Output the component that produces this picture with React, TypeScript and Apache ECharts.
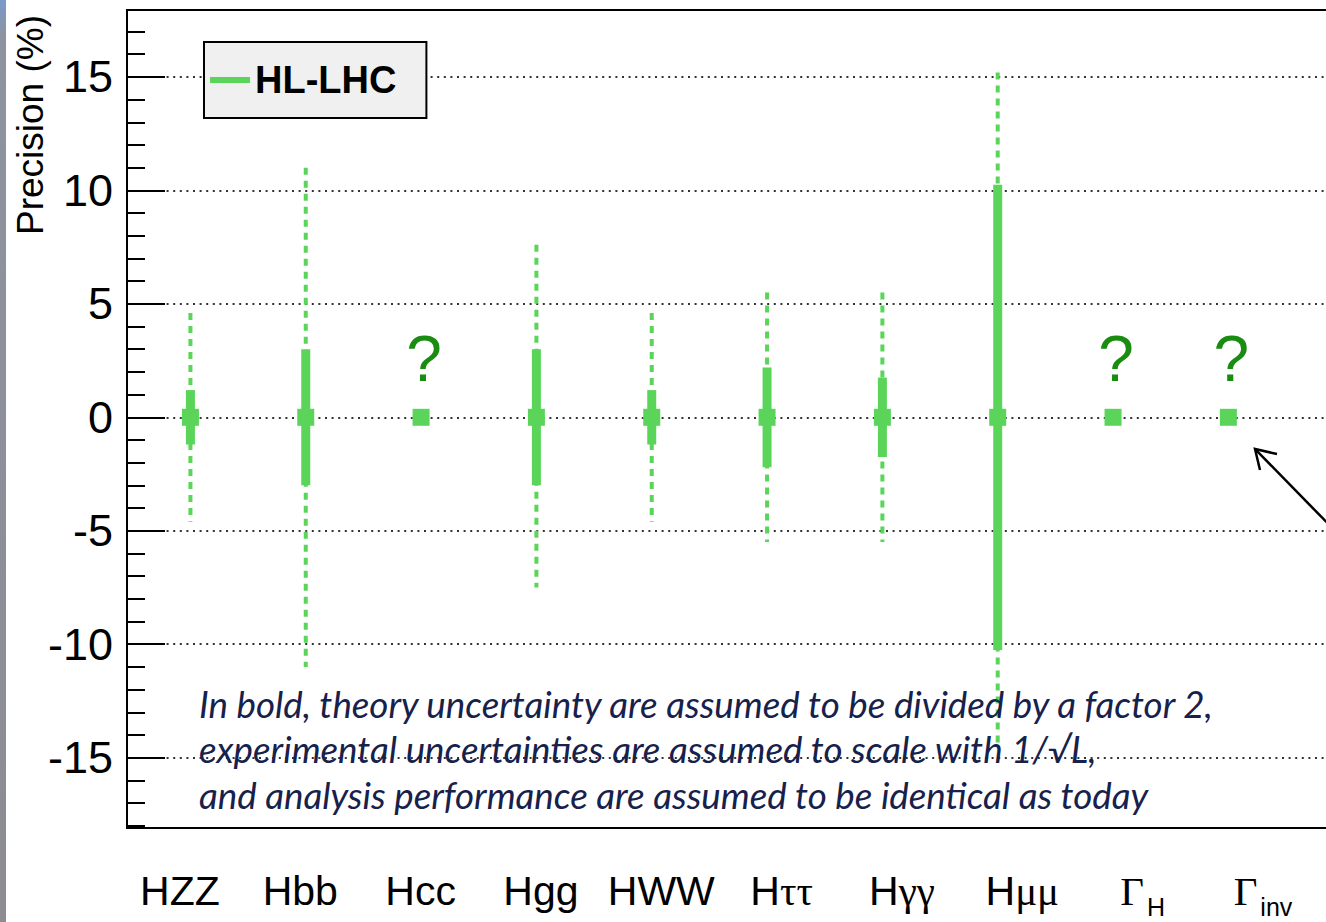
import React, { useEffect, useRef } from "react";
import * as echarts from "echarts";

// Coupling channels shown along the horizontal axis
const CATEGORIES = ["HZZ", "Hbb", "Hcc", "Hgg", "HWW", "Hττ", "Hγγ", "Hμμ", "ΓH", "Γinv"];
// Rich-text forms of the channel names (Greek letters in a serif face, subscripts lowered)
const CATEGORY_LABELS = [
  "{s|HZZ}",
  "{s|Hbb}",
  "{s|Hcc}",
  "{s|Hgg}",
  "{s|HWW}",
  "{s|H}{g|ττ}",
  "{s|H}{g|γγ}",
  "{s|H}{g|μμ}",
  "{g|Γ}{sub|H}",
  "{g|Γ}{sub|inv}",
];

// Central value (%) of every channel
const CENTRAL = [0, 0, 0, 0, 0, 0, 0, 0, 0, 0];
// Full uncertainty band (dotted), upper and lower edges in %
const TOTAL_UP = [4.6, 11.0, null, 7.6, 4.6, 5.5, 5.5, 15.2, null, null];
const TOTAL_DOWN = [-4.6, -11.0, null, -7.5, -4.6, -5.5, -5.5, -14.5, null, null];
// Band with theory uncertainty halved (bold), upper and lower edges in %
const BOLD_UP = [1.2, 3.0, null, 3.0, 1.2, 2.2, 1.75, 10.25, null, null];
const BOLD_DOWN = [-1.2, -3.0, null, -3.0, -1.2, -2.2, -1.75, -10.25, null, null];

// Vertical axis
const Y_MIN = -18.1;
const Y_MAX = 17.95;
const MAJOR_TICKS = [-15, -10, -5, 0, 5, 10, 15];
const MINOR_TICKS = Array.from({ length: 36 }, (_, i) => i - 18);

const SERIES_NAME = "HL-LHC";
const NOTE_LINES = [
  "In bold, theory uncertainty are assumed to be divided by a factor 2,",
  "experimental uncertainties are assumed to scale with 1/√L,",
  "and analysis performance are assumed to be identical as today",
];

const GREEN = "#5ad55a";
const QUESTION_GREEN = "#1b8c12";
const NOTE_COLOR = "#16214c";
const SANS = "'Liberation Sans', Arial, sans-serif";
const SERIF = "'Liberation Serif', 'Times New Roman', serif";
const NOTE_FONT = "Lato";
const NOTE_SIZE = 36;
const NOTE_WIDTH = 1018;

function noteScale(): number {
  const canvas = document.createElement("canvas");
  const ctx = canvas.getContext("2d");
  if (!ctx) return 0.9;
  ctx.font = `italic ${NOTE_SIZE}px ${NOTE_FONT}`;
  const w = ctx.measureText(NOTE_LINES[0]).width;
  return w > 0 ? NOTE_WIDTH / w : 0.9;
}

export default function App() {
  const ref = useRef<HTMLDivElement>(null);

  useEffect(() => {
    if (!ref.current) return;
    const chart = echarts.init(ref.current, undefined, { renderer: "svg" });

    const data = CATEGORIES.map((_, i) => [
      i,
      CENTRAL[i],
      TOTAL_UP[i] ?? "-",
      TOTAL_DOWN[i] ?? "-",
      BOLD_UP[i] ?? "-",
      BOLD_DOWN[i] ?? "-",
    ]);

    const sx = noteScale();

    const option: any = {
      animation: false,
      backgroundColor: "#ffffff",
      grid: {
        left: 127,
        top: 10,
        width: 1219,
        height: 818,
        show: true,
        borderColor: "#000",
        borderWidth: 2,
        backgroundColor: "transparent",
        containLabel: false,
        outerBoundsMode: "none",
      },
      legend: {
        show: true,
        data: [{ name: SERIES_NAME, icon: "rect" }],
        left: 204,
        top: 42,
        orient: "horizontal",
        itemWidth: 40,
        itemHeight: 6,
        padding: [19, 30, 19, 6],
        backgroundColor: "#f0f0f0",
        borderColor: "#000",
        borderWidth: 2,
        borderRadius: 0,
        selectedMode: false,
        textStyle: {
          fontSize: 38,
          fontWeight: "bold",
          fontFamily: SANS,
          color: "#000",
        },
      },
      xAxis: [
        {
          type: "value",
          min: -0.55,
          max: 10.02,
          position: "bottom",
          axisLine: { show: false, onZero: false },
          axisTick: { show: false },
          axisLabel: { show: false },
          splitLine: { show: false },
        },
        {
          type: "value",
          min: -0.44,
          max: 9.69,
          position: "bottom",
          axisLine: { show: false, onZero: false },
          axisTick: { show: false },
          splitLine: { show: false },
          axisLabel: {
            show: true,
            customValues: CATEGORIES.map((_, i) => i),
            formatter: (v: number) => CATEGORY_LABELS[Math.round(v)] ?? "",
            margin: 42,
            color: "#000",
            rich: {
              s: { fontFamily: SANS, fontSize: 41, color: "#000", lineHeight: 46, verticalAlign: "top" },
              g: { fontFamily: SERIF, fontSize: 41, color: "#000", lineHeight: 46, verticalAlign: "top" },
              sub: {
                fontFamily: SANS,
                fontSize: 25,
                color: "#000",
                lineHeight: 24,
                verticalAlign: "top",
                padding: [24, 0, 0, 3],
              },
            },
          },
        },
      ],
      yAxis: [
        {
          type: "value",
          min: Y_MIN,
          max: Y_MAX,
          position: "left",
          axisLine: { show: false, onZero: false },
          axisTick: {
            show: true,
            inside: true,
            length: 18,
            customValues: MINOR_TICKS,
            lineStyle: { color: "#000", width: 2 },
          },
          axisLabel: { show: false },
          splitLine: { show: false },
        },
        {
          type: "value",
          min: Y_MIN,
          max: Y_MAX,
          position: "left",
          axisLine: { show: false, onZero: false },
          axisTick: {
            show: true,
            inside: true,
            length: 38,
            customValues: MAJOR_TICKS,
            lineStyle: { color: "#000", width: 2 },
          },
          axisLabel: {
            show: true,
            customValues: MAJOR_TICKS,
            fontSize: 45,
            fontFamily: SANS,
            color: "#000",
            margin: 14,
          },
          splitLine: {
            show: true,
            lineStyle: { color: "#333", width: 2, type: [2, 4.6] },
          },
        },
      ],
      series: [
        {
          name: SERIES_NAME,
          type: "custom",
          xAxisIndex: 0,
          yAxisIndex: 1,
          itemStyle: { color: GREEN },
          encode: { x: 0, y: [1, 2, 3, 4, 5] },
          data,
          renderItem: (params: any, api: any) => {
            const i = api.value(0);
            const c = api.coord([i, api.value(1)]);
            const children: any[] = [];
            const tUp = api.value(2);
            const tDown = api.value(3);
            const bUp = api.value(4);
            const bDown = api.value(5);
            const known = !isNaN(tUp) && tUp !== "-" && tUp !== null;
            if (known) {
              const pTop = api.coord([i, tUp]);
              const pBot = api.coord([i, tDown]);
              children.push({
                type: "line",
                shape: { x1: c[0], y1: pTop[1], x2: c[0], y2: pBot[1] },
                style: { stroke: GREEN, lineWidth: 4, lineDash: [7, 6] },
              });
              const bTop = api.coord([i, bUp]);
              const bBot = api.coord([i, bDown]);
              children.push({
                type: "rect",
                shape: { x: c[0] - 4.5, y: bTop[1], width: 9, height: bBot[1] - bTop[1] },
                style: { fill: GREEN },
              });
            }
            children.push({
              type: "rect",
              shape: { x: c[0] - 8.5, y: c[1] - 8.5, width: 17, height: 17 },
              style: { fill: GREEN },
            });
            if (!known) {
              children.push({
                type: "text",
                x: c[0] + 3,
                y: c[1] - 58,
                style: {
                  text: "?",
                  fill: QUESTION_GREEN,
                  fontSize: 64,
                  fontFamily: SANS,
                  align: "center",
                  verticalAlign: "middle",
                },
              });
            }
            return { type: "group", children };
          },
        },
      ],
      graphic: [
        {
          type: "rect",
          left: 0,
          top: 0,
          shape: { x: 0, y: 0, width: 6, height: 922 },
          style: {
            fill: new echarts.graphic.LinearGradient(0, 0, 0, 1, [
              { offset: 0, color: "#7b9acb" },
              { offset: 0.04, color: "#8d93a0" },
              { offset: 1, color: "#8c8c92" },
            ]),
          },
          silent: true,
        },
        {
          type: "text",
          x: 30,
          y: 15,
          rotation: Math.PI / 2,
          style: {
            text: "Precision (%)",
            fontSize: 37,
            fontFamily: SANS,
            fill: "#000",
            align: "right",
            verticalAlign: "middle",
          },
        },
        ...NOTE_LINES.map((line, k) => ({
          type: "text",
          x: 199,
          y: 704 + k * 45.5,
          scaleX: sx,
          z: 10,
          style: {
            text: line,
            fontSize: NOTE_SIZE,
            fontStyle: "italic",
            fontFamily: NOTE_FONT,
            fill: NOTE_COLOR,
            align: "left",
            verticalAlign: "middle",
          },
        })),
        {
          type: "line",
          z: 10,
          shape: { x1: 1255, y1: 449, x2: 1345, y2: 541 },
          style: { stroke: "#000", lineWidth: 2.5 },
        },
        {
          type: "polyline",
          z: 10,
          shape: { points: [[1277, 454], [1255, 449], [1260, 470]] },
          style: { stroke: "#000", lineWidth: 2.5, fill: null },
        },
      ],
    };

    chart.setOption(option);
    return () => chart.dispose();
  }, []);

  return (
    <div style={{ position: "fixed", left: 0, top: 0, width: 1326, height: 922, overflow: "hidden", background: "#fff" }}>
      <div ref={ref} style={{ width: 1326, height: 922 }} />
    </div>
  );
}
